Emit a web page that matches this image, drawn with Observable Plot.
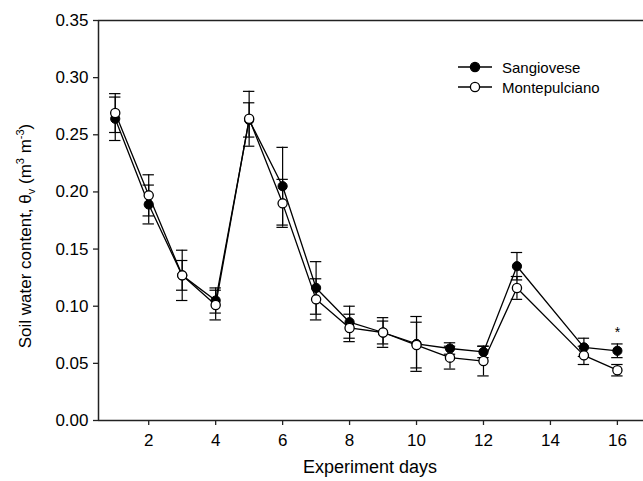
<!DOCTYPE html>
<html>
<head>
<meta charset="utf-8">
<script src="https://cdn.jsdelivr.net/npm/d3@7"></script>
<script src="https://cdn.jsdelivr.net/npm/@observablehq/plot@0.6"></script>
<style>
  body { margin: 0; background: #fff; }
  #wrap { position: relative; width: 643px; height: 481px; }
</style>
</head>
<body>
<div id="wrap"></div>
<script>
// ---- data ----
const days = [1, 2, 3, 4, 5, 6, 7, 8, 9, 10, 11, 12, 13, 15, 16];
const sangiovese      = [0.264, 0.189, 0.127, 0.105, 0.263, 0.205, 0.116, 0.086, 0.077, 0.067, 0.063, 0.060, 0.135, 0.064, 0.061];
const sangioveseErr   = [0.019, 0.017, 0.022, 0.011, 0.015, 0.034, 0.023, 0.014, 0.013, 0.024, 0.005, 0.005, 0.012, 0.008, 0.006];
const montepulciano   = [0.269, 0.197, 0.127, 0.101, 0.264, 0.190, 0.106, 0.081, 0.077, 0.066, 0.055, 0.052, 0.116, 0.057, 0.044];
const montepulcianoErr= [0.017, 0.018, 0.013, 0.013, 0.024, 0.021, 0.018, 0.012, 0.010, 0.020, 0.010, 0.013, 0.010, 0.008, 0.005];
const seriesNames = ["Sangiovese", "Montepulciano"];
const xTicks = [2, 4, 6, 8, 10, 12, 14, 16];
const yTicks = [0, 0.05, 0.10, 0.15, 0.20, 0.25, 0.30, 0.35];
const xDomain = [0.5, 16.78];
const yDomain = [0, 0.35];
const starDays = [16];
const starValues = [0.077];
const starLabels = ["*"];

// ---- build tables ----
const sData = days.map((d, i) => ({day: d, v: sangiovese[i], e: sangioveseErr[i]}));
const mData = days.map((d, i) => ({day: d, v: montepulciano[i], e: montepulcianoErr[i]}));
const stars = starDays.map((d, i) => ({day: d, v: starValues[i], t: starLabels[i]}));

const cap = 0.17; // half-width of error bar caps, in days
const font = "'Liberation Sans', Arial, Helvetica, sans-serif";

function errMarks(data) {
  return [
    Plot.ruleX(data, {x: "day", y1: d => d.v - d.e, y2: d => d.v + d.e, stroke: "#000", strokeWidth: 1.2}),
    Plot.ruleY(data, {y: d => d.v + d.e, x1: d => d.day - cap, x2: d => d.day + cap, stroke: "#000", strokeWidth: 1.2}),
    Plot.ruleY(data, {y: d => d.v - d.e, x1: d => d.day - cap, x2: d => d.day + cap, stroke: "#000", strokeWidth: 1.2})
  ];
}

const plot = Plot.plot({
  width: 643,
  height: 481,
  marginTop: 20,
  marginBottom: 61,
  marginLeft: 98,
  marginRight: 0,
  style: {fontFamily: font, fontSize: "17px", color: "#000", background: "#fff", overflow: "visible"},
  x: {domain: xDomain, ticks: xTicks, tickFormat: d => String(d), label: null, tickSize: 5, tickPadding: 8},
  y: {domain: yDomain, ticks: yTicks, tickFormat: d3.format(".2f"), label: null, tickSize: 5, tickPadding: 5},
  marks: [
    Plot.ruleY(yDomain, {stroke: "#222", strokeWidth: 1.5}),
    Plot.ruleX([xDomain[0]], {stroke: "#222", strokeWidth: 1.5}),
    Plot.line(sData, {x: "day", y: "v", stroke: "#000", strokeWidth: 1.3}),
    Plot.line(mData, {x: "day", y: "v", stroke: "#000", strokeWidth: 1.3}),
    ...errMarks(sData),
    Plot.dot(sData, {x: "day", y: "v", r: 4.6, fill: "#000", stroke: "#000", strokeWidth: 1}),
    ...errMarks(mData),
    Plot.dot(mData, {x: "day", y: "v", r: 4.6, fill: "#fff", stroke: "#000", strokeWidth: 1.3}),
    Plot.text(stars, {x: "day", y: "v", text: "t", fontSize: 14, fill: "#000"})
  ]
});

document.getElementById("wrap").appendChild(plot);

const svg = d3.select(plot);
svg.selectAll("[aria-label='x-axis tick'], [aria-label='y-axis tick']").attr("stroke", "#222").attr("stroke-width", 1.3);

// y axis title with subscript / superscripts
const yt = svg.append("text")
  .attr("transform", "translate(31,236) rotate(-90)")
  .attr("text-anchor", "middle")
  .attr("font-family", font)
  .attr("font-size", 17)
  .attr("fill", "#000");
yt.append("tspan").text("Soil water content, \u03b8");
yt.append("tspan").attr("font-size", 11).attr("dy", 4).text("v");
yt.append("tspan").attr("dy", -4).text(" (m");
yt.append("tspan").attr("font-size", 11).attr("dy", -7).text("3");
yt.append("tspan").attr("dy", 7).text(" m");
yt.append("tspan").attr("font-size", 11).attr("dy", -7).text("-3");
yt.append("tspan").attr("dy", 7).text(")");

// x axis title
svg.append("text")
  .attr("x", 370).attr("y", 473)
  .attr("text-anchor", "middle")
  .attr("font-family", font)
  .attr("font-size", 18)
  .attr("fill", "#000")
  .text("Experiment days");

// legend (inside plot, top right)
const legend = svg.append("g").attr("font-family", font).attr("font-size", 15).attr("text-anchor", "start");
seriesNames.forEach((name, i) => {
  const y = 67 + i * 20;
  legend.append("line").attr("x1", 458).attr("x2", 492).attr("y1", y).attr("y2", y).attr("stroke", "#000").attr("stroke-width", 1.3);
  legend.append("circle").attr("cx", 475).attr("cy", y).attr("r", 4.6)
    .attr("fill", i === 0 ? "#000" : "#fff").attr("stroke", "#000").attr("stroke-width", 1.3);
  legend.append("text").attr("x", 502).attr("y", y + 5.5).attr("text-anchor", "start").attr("fill", "#000").text(name);
});
</script>
</body>
</html>
